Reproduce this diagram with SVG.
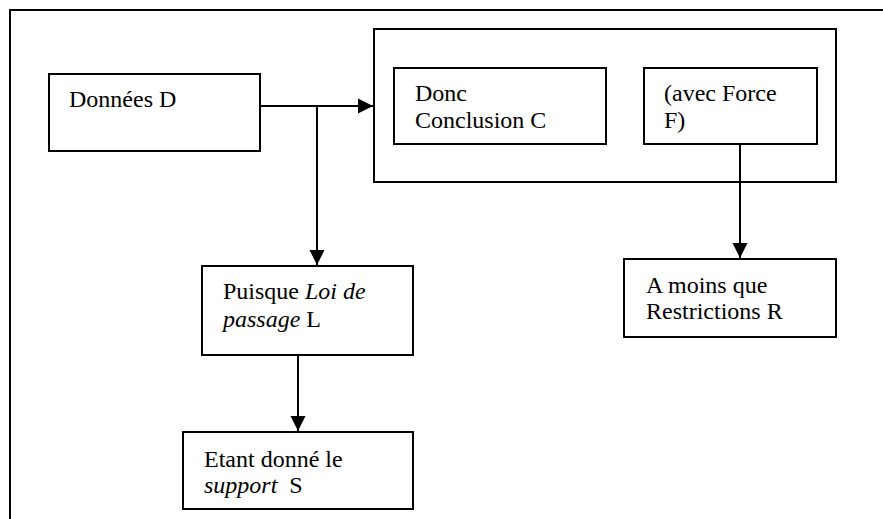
<svg xmlns="http://www.w3.org/2000/svg" width="883" height="519" viewBox="0 0 883 519">
<style>
.box{fill:#fff;stroke:#000;stroke-width:2}
.t{font-family:"Liberation Serif","Times New Roman",serif;font-size:24px;fill:#000}
.i{font-style:italic}
.c{fill:none;stroke:#000;stroke-width:2}
</style>
<defs>
<marker id="ah" markerUnits="userSpaceOnUse" markerWidth="16" markerHeight="16" refX="15" refY="8" orient="auto" viewBox="0 0 16 16">
<path d="M0,0.5 L15,8 L0,15.5 Z" fill="#000"/>
</marker>
</defs>
<rect width="883" height="519" fill="#fff"/>
<path d="M10,519 V10 H883" fill="none" stroke="#000" stroke-width="2"/>
<g id="donnees">
<rect class="box" x="49" y="74" width="211" height="77"/>
<text class="t" x="69" y="107">Données D</text>
</g>
<g id="conclusion-group">
<rect class="box" x="374" y="29" width="462" height="153"/>
</g>
<g id="conclusion">
<rect class="box" x="394" y="68" width="212" height="76"/>
<text class="t" x="415" y="101">Donc</text>
<text class="t" x="415" y="128">Conclusion C</text>
</g>
<g id="force">
<rect class="box" x="644" y="68" width="173" height="76"/>
<text class="t" x="664" y="101">(avec Force</text>
<text class="t" x="664" y="128">F)</text>
</g>
<g id="loi">
<rect class="box" x="202" y="266" width="211" height="89"/>
<text class="t" x="223" y="299">Puisque <tspan class="i">Loi de</tspan></text>
<text class="t" x="223" y="327"><tspan class="i">passage</tspan> L</text>
</g>
<g id="restrictions">
<rect class="box" x="624" y="259" width="212" height="78"/>
<text class="t" x="646" y="293">A moins que</text>
<text class="t" x="646" y="319">Restrictions R</text>
</g>
<g id="support">
<rect class="box" x="183" y="432" width="230" height="77"/>
<text class="t" x="204" y="467">Etant donné le</text>
<text class="t" x="204" y="493" xml:space="preserve"><tspan class="i">support</tspan>  S</text>
</g>
<g id="connectors">
<path class="c" d="M260,106 H373" marker-end="url(#ah)"/>
<path class="c" d="M317,106 V265" marker-end="url(#ah)"/>
<path class="c" d="M740,144 V258" marker-end="url(#ah)"/>
<path class="c" d="M298,355 V431" marker-end="url(#ah)"/>
</g>
</svg>
